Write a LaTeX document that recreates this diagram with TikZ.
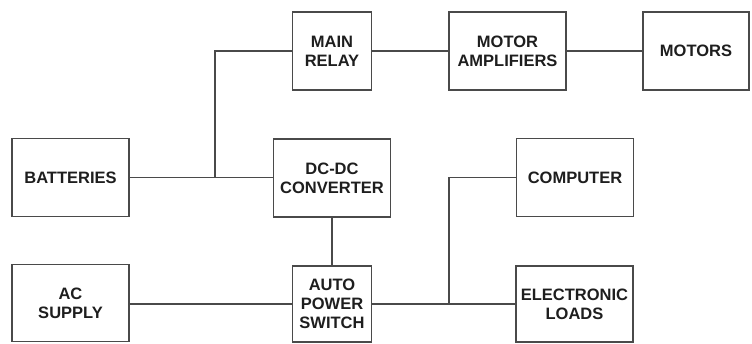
\documentclass[tikz,border=0pt]{standalone}
\usepackage{fontspec}
\setmainfont{Liberation Sans}
\usetikzlibrary{positioning}
\definecolor{wire}{HTML}{4A4A4A}
\definecolor{ink}{HTML}{1E1E1E}

\begin{document}
\begin{tikzpicture}[
  x=1pt,y=-1pt,
  block/.style={draw=wire,line width=1.5pt,fill=white,inner sep=0pt,align=center,
    text=ink,font=\fontsize{16.5}{19}\selectfont\bfseries},
  wide/.style={block,minimum width=117pt,minimum height=78pt},
  narrow/.style={block,minimum width=79pt,minimum height=78pt},
  link/.style={draw=wire,line width=1.5pt}
]
\useasboundingbox (0,0) rectangle (752,343);
\node[narrow] (relay) at (332,51) {MAIN\\RELAY};
\node[wide] (amps) at (507.5,51) {MOTOR\\AMPLIFIERS};
\node[block,minimum width=106pt,minimum height=78pt] (motors) at (696,51) {MOTORS};
\node[wide] (batt) at (70.5,177.5) {BATTERIES};
\node[wide] (conv) at (332,178) {DC-DC\\CONVERTER};
\node[wide] (comp) at (575,177.5) {COMPUTER};
\node[wide,minimum height=77pt] (ac) at (70.5,303) {AC\\SUPPLY};
\node[narrow,minimum height=76pt] (aps) at (332,304) {AUTO\\POWER\\SWITCH};
\node[wide,minimum height=76pt] (loads) at (574.5,304) {ELECTRONIC\\LOADS};
\coordinate (bj) at (215,177.5);
\coordinate (lj) at (449,304);
\draw[link] (relay) -- (amps);
\draw[link] (amps) -- (motors);
\draw[link] (batt.east) -- (batt.east -| conv.west);
\draw[link] (bj) |- (relay.west);
\draw[link] (conv) -- (aps);
\draw[link] (ac.east |- aps) -- (aps.west);
\draw[link] (aps) -- (loads);
\draw[link] (lj) |- (comp.west);
\end{tikzpicture}
\end{document}
